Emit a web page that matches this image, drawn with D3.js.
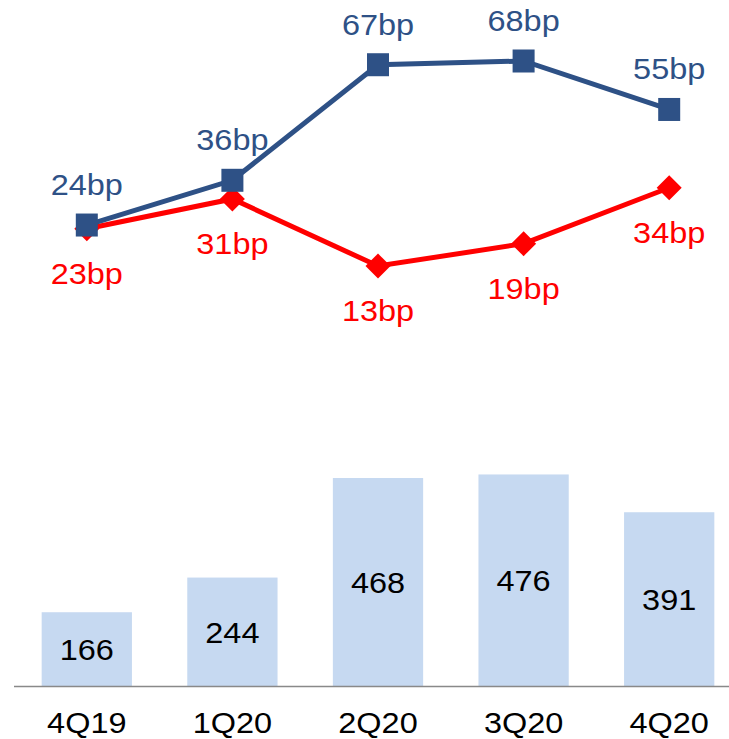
<!DOCTYPE html>
<meta charset="utf-8">

<style>
body{
	background-color: #fff;
	margin: 0px;
}

text{
	font-family: Arial, "Liberation Sans", sans-serif;
	font-size: 29px;
}
</style>

<body></body>

<script src="https://cdn.jsdelivr.net/npm/d3@7"></script>

<script>

var quarters  = ['4Q19', '1Q20', '2Q20', '3Q20', '4Q20'],
		volumes   = [166, 244, 468, 476, 391],
		blueBp    = [24, 36, 67, 68, 55],
		redBp     = [23, 31, 13, 19, 34]

var width  = 729,
		height = 739,
		navy   = '#2e5186',
		red    = '#ff0000',
		stretch = 1.12

var svg = d3.select('body')
	.append('svg')
		.attr('width', width)
		.attr('height', height)

var x = d3.scaleBand()
	.domain(quarters)
	.range([14, 742])
	.paddingInner(0.38)
	.paddingOuter(0.19)

var cx = function(d, i){ return x(quarters[i]) + x.bandwidth()/2 }

// bars
var yBar = d3.scaleLinear().domain([0, 500]).range([686, 463.8])

svg.selectAll('rect.bar').data(volumes).enter()
	.append('rect')
		.attr('class', 'bar')
		.attr('x', function(d, i){ return x(quarters[i]) })
		.attr('width', x.bandwidth())
		.attr('y', function(d){ return yBar(d) })
		.attr('height', function(d){ return yBar(0) - yBar(d) })
		.attr('fill', '#c6d9f1')

svg.selectAll('text.barlabel').data(volumes).enter()
	.append('text')
		.attr('class', 'barlabel')
		.attr('transform', function(d, i){
			return 'translate(' + cx(d, i) + ',' + ((yBar(d) + yBar(0))/2 + 11) + ') scale(' + stretch + ',1)' })
		.attr('text-anchor', 'middle')
		.attr('fill', '#000')
		.text(function(d){ return d })

// axis line
svg.append('line')
	.attr('x1', 14).attr('x2', width)
	.attr('y1', 686.5).attr('y2', 686.5)
	.attr('stroke', '#898989')
	.attr('stroke-width', 1.5)

svg.selectAll('text.cat').data(quarters).enter()
	.append('text')
		.attr('class', 'cat')
		.attr('transform', function(d){
			return 'translate(' + (x(d) + x.bandwidth()/2) + ',733) scale(' + stretch + ',1)' })
		.attr('text-anchor', 'middle')
		.attr('fill', '#000')
		.text(function(d){ return d })

// lines
var yBp = d3.scaleLinear().domain([0, 68]).range([314.5, 61])

var line = d3.line()
	.x(function(d, i){ return cx(d, i) })
	.y(function(d){ return yBp(d) })

svg.append('path')
	.datum(redBp)
	.attr('d', line)
	.attr('fill', 'none')
	.attr('stroke', red)
	.attr('stroke-width', 5)

svg.selectAll('path.diamond').data(redBp).enter()
	.append('path')
		.attr('class', 'diamond')
		.attr('transform', function(d, i){ return 'translate(' + cx(d, i) + ',' + yBp(d) + ')' })
		.attr('d', 'M0,-12.5L12.5,0L0,12.5L-12.5,0Z')
		.attr('fill', red)

svg.append('path')
	.datum(blueBp)
	.attr('d', line)
	.attr('fill', 'none')
	.attr('stroke', navy)
	.attr('stroke-width', 5)

svg.selectAll('rect.square').data(blueBp).enter()
	.append('rect')
		.attr('class', 'square')
		.attr('x', function(d, i){ return cx(d, i) - 11 })
		.attr('y', function(d){ return yBp(d) - 11.5 })
		.attr('width', 22)
		.attr('height', 23)
		.attr('fill', navy)

svg.selectAll('text.bluelabel').data(blueBp).enter()
	.append('text')
		.attr('class', 'bluelabel')
		.attr('transform', function(d, i){
			return 'translate(' + cx(d, i) + ',' + (yBp(d) - 30) + ') scale(' + stretch + ',1)' })
		.attr('text-anchor', 'middle')
		.attr('fill', navy)
		.text(function(d){ return d + 'bp' })

svg.selectAll('text.redlabel').data(redBp).enter()
	.append('text')
		.attr('class', 'redlabel')
		.attr('transform', function(d, i){
			return 'translate(' + cx(d, i) + ',' + (yBp(d) + 55) + ') scale(' + stretch + ',1)' })
		.attr('text-anchor', 'middle')
		.attr('fill', red)
		.text(function(d){ return d + 'bp' })

</script>
